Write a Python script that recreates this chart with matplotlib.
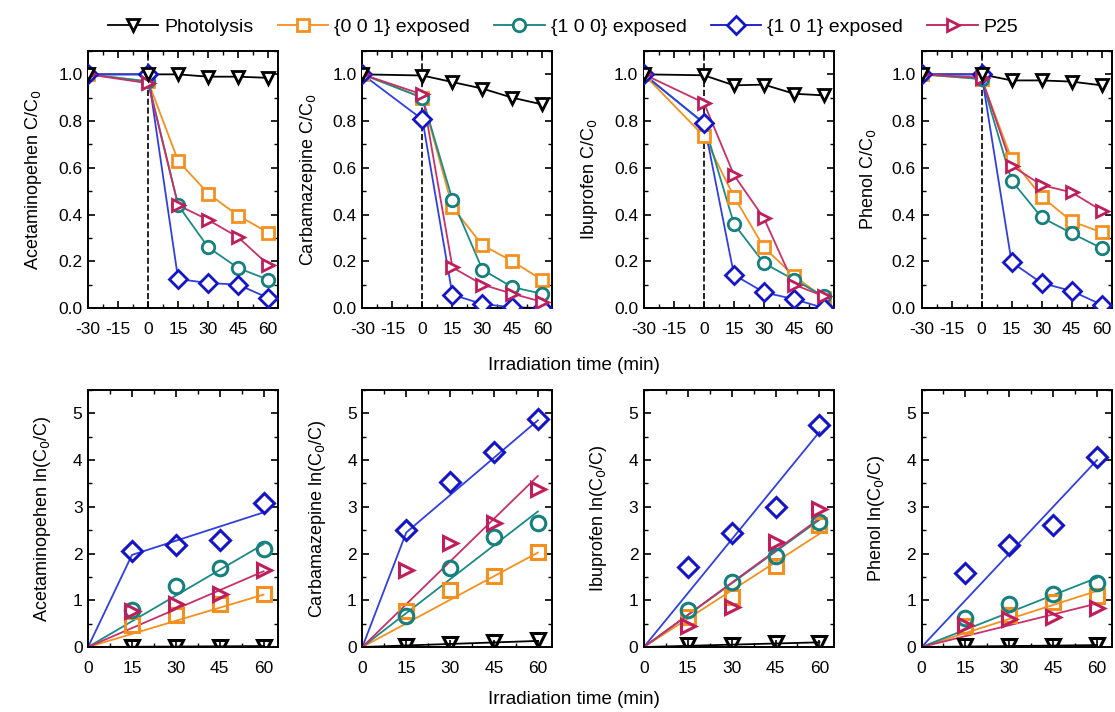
import numpy as np
import matplotlib.pyplot as plt
from matplotlib.lines import Line2D
from matplotlib.ticker import MultipleLocator

plt.rcParams['font.family'] = ['Liberation Sans', 'DejaVu Sans']

t_all = [-30, 0, 15, 30, 45, 60]
t_irr = [15, 30, 45, 60]

names = ['Acetaminopehen', 'Carbamazepine', 'Ibuprofen', 'Phenol']
series = ['Photolysis', '{0 0 1} exposed', '{1 0 0} exposed', '{1 0 1} exposed', 'P25']
colors = ['#000000', '#F5901E', '#16807F', '#1515C8', '#BE1E5C']
markers = ['v', 's', 'o', 'D', '>']

# C/C0 vs time (top row)
cc0_acet = [[1.0, 1.0, 1.0, 0.99, 0.99, 0.985],
            [1.0, 0.97, 0.63, 0.49, 0.395, 0.323],
            [1.0, 0.97, 0.44, 0.26, 0.171, 0.121],
            [1.0, 1.0, 0.124, 0.107, 0.10, 0.043],
            [1.0, 0.962, 0.44, 0.377, 0.303, 0.185]]
cc0_carb = [[1.0, 0.995, 0.967, 0.939, 0.90, 0.871],
            [1.0, 0.90, 0.431, 0.269, 0.20, 0.119],
            [1.0, 0.90, 0.464, 0.164, 0.089, 0.061],
            [1.0, 0.807, 0.057, 0.017, 0.003, 0.0],
            [1.0, 0.914, 0.174, 0.10, 0.061, 0.026]]
cc0_ibu = [[1.0, 0.996, 0.953, 0.956, 0.917, 0.91],
           [1.0, 0.735, 0.477, 0.259, 0.138, 0.043],
           [1.0, 0.79, 0.36, 0.192, 0.121, 0.05],
           [1.0, 0.792, 0.142, 0.067, 0.038, 0.0],
           [1.0, 0.878, 0.569, 0.384, 0.10, 0.05]]
cc0_phen = [[1.0, 1.0, 0.974, 0.974, 0.969, 0.953],
            [1.0, 0.98, 0.637, 0.477, 0.371, 0.324],
            [1.0, 0.98, 0.545, 0.388, 0.32, 0.256],
            [1.0, 1.0, 0.196, 0.107, 0.073, 0.014],
            [1.0, 0.986, 0.609, 0.526, 0.495, 0.417]]
top_data = [cc0_acet, cc0_carb, cc0_ibu, cc0_phen]

# ln(C0/C) vs time (bottom row markers)
ln_acet = [[0.01, 0.01, 0.01, 0.01],
           [0.46, 0.69, 0.92, 1.14],
           [0.80, 1.30, 1.69, 2.10],
           [2.06, 2.18, 2.29, 3.09],
           [0.78, 0.92, 1.14, 1.64]]
ln_carb = [[0.03, 0.06, 0.10, 0.14],
           [0.78, 1.23, 1.51, 2.03],
           [0.67, 1.70, 2.35, 2.66],
           [2.50, 3.53, 4.17, 4.87],
           [1.65, 2.22, 2.66, 3.38]]
ln_ibu = [[0.04, 0.05, 0.08, 0.09],
          [0.65, 1.06, 1.74, 2.60],
          [0.80, 1.40, 1.94, 2.68],
          [1.72, 2.43, 3.00, 4.74],
          [0.45, 0.86, 2.24, 2.95]]
ln_phen = [[0.02, 0.03, 0.03, 0.05],
           [0.45, 0.68, 0.96, 1.09],
           [0.61, 0.93, 1.13, 1.36],
           [1.59, 2.19, 2.61, 4.07],
           [0.46, 0.60, 0.64, 0.84]]
bot_data = [ln_acet, ln_carb, ln_ibu, ln_phen]

# fitted lines (time points, values)
fit_acet = [([0, 60], [0, 0.02]), ([0, 60], [0, 1.12]), ([0, 60], [0, 2.2]),
            ([0, 15, 60], [0, 1.97, 2.88]), ([0, 60], [0, 1.62])]
fit_carb = [([0, 60], [0, 0.13]), ([0, 60], [0, 2.02]), ([0, 60], [0, 2.9]),
            ([0, 15, 60], [0, 2.45, 4.85]), ([0, 60], [0, 3.66])]
fit_ibu = [([0, 60], [0, 0.1]), ([0, 60], [0, 2.42]), ([0, 60], [0, 2.72]),
           ([0, 60], [0, 4.6]), ([0, 60], [0, 2.75])]
fit_phen = [([0, 60], [0, 0.04]), ([0, 60], [0, 1.2]), ([0, 60], [0, 1.48]),
            ([0, 60], [0, 4.0]), ([0, 60], [0, 0.93])]
bot_fits = [fit_acet, fit_carb, fit_ibu, fit_phen]
line_colors = ['#000000', '#F5901E', '#1A8A88', '#3040E0', '#C8306A']

fig = plt.figure(figsize=(11.15, 7.12), dpi=100)
lefts = [0.0790, 0.3250, 0.5775, 0.8265]
w = 0.1705
h = 0.361

def style(ax):
    ax.tick_params(which='both', direction='in', top=True, right=True, labelsize=12.5)
    ax.tick_params(axis='x', pad=10)
    ax.tick_params(axis='y', pad=4)
    ax.tick_params(which='major', length=5, width=1.2)
    ax.tick_params(which='minor', length=3, width=1.0)
    for s in ax.spines.values():
        s.set_linewidth(1.4)

for i in range(4):
    ax = fig.add_axes([lefts[i], 0.5674, w, h])
    for j in range(5):
        ax.plot(t_all, top_data[i][j], color=line_colors[j], lw=1.3, zorder=2)
        ax.plot(t_all, top_data[i][j], ls='none', color=colors[j], marker=markers[j], ms=9,
                mfc='white', mew=2, zorder=3 + (j == 0))
    ax.axvline(0, color='black', ls='--', lw=1.2, zorder=1)
    ax.set_xlim(-30, 65)
    ax.set_ylim(0, 1.1)
    ax.set_xticks([-30, -15, 0, 15, 30, 45, 60])
    ax.xaxis.set_minor_locator(MultipleLocator(7.5))
    ax.yaxis.set_minor_locator(MultipleLocator(0.1))
    ax.set_yticks([0, 0.2, 0.4, 0.6, 0.8, 1.0])
    ax.set_yticklabels(['0.0', '0.2', '0.4', '0.6', '0.8', '1.0'])
    ax.set_xticklabels(['-30', '-15', '0', '15', '30', '45', '60'])
    ax.set_ylabel(names[i] + ' C/C$_0$', fontsize=13, labelpad=10)
    style(ax)

    ax2 = fig.add_axes([lefts[i], 0.0913, w, h])
    for j in range(5):
        fx, fy = bot_fits[i][j]
        ax2.plot(fx, fy, color=line_colors[j], lw=1.3, zorder=2)
        ax2.plot(t_irr, bot_data[i][j], ls='none', color=colors[j], marker=markers[j],
                 ms=10.5, mfc='none', mew=2.2, zorder=3)
    ax2.set_xlim(0, 65)
    ax2.set_ylim(0, 5.5)
    ax2.set_xticks([0, 15, 30, 45, 60])
    ax2.xaxis.set_minor_locator(MultipleLocator(7.5))
    ax2.set_yticks([0, 1, 2, 3, 4, 5])
    ax2.yaxis.set_minor_locator(MultipleLocator(0.5))
    ax2.set_ylabel(names[i] + ' ln(C$_0$/C)', fontsize=13, labelpad=14)
    style(ax2)

fig.text(0.515, 0.487, 'Irradiation time (min)', ha='center', va='center', fontsize=13.5)
fig.text(0.515, 0.017, 'Irradiation time (min)', ha='center', va='center', fontsize=13.5)

handles = [Line2D([], [], color=colors[j], marker=markers[j], ms=9, mfc='white', mew=2, lw=1.3)
           for j in range(5)]
fig.legend(handles, series, loc='center', bbox_to_anchor=(0.505, 0.962), ncol=5,
           frameon=False, fontsize=14, handlelength=2.6, columnspacing=1.25,
           handletextpad=0.3)

plt.savefig('out.png', dpi=100)
plt.close()
